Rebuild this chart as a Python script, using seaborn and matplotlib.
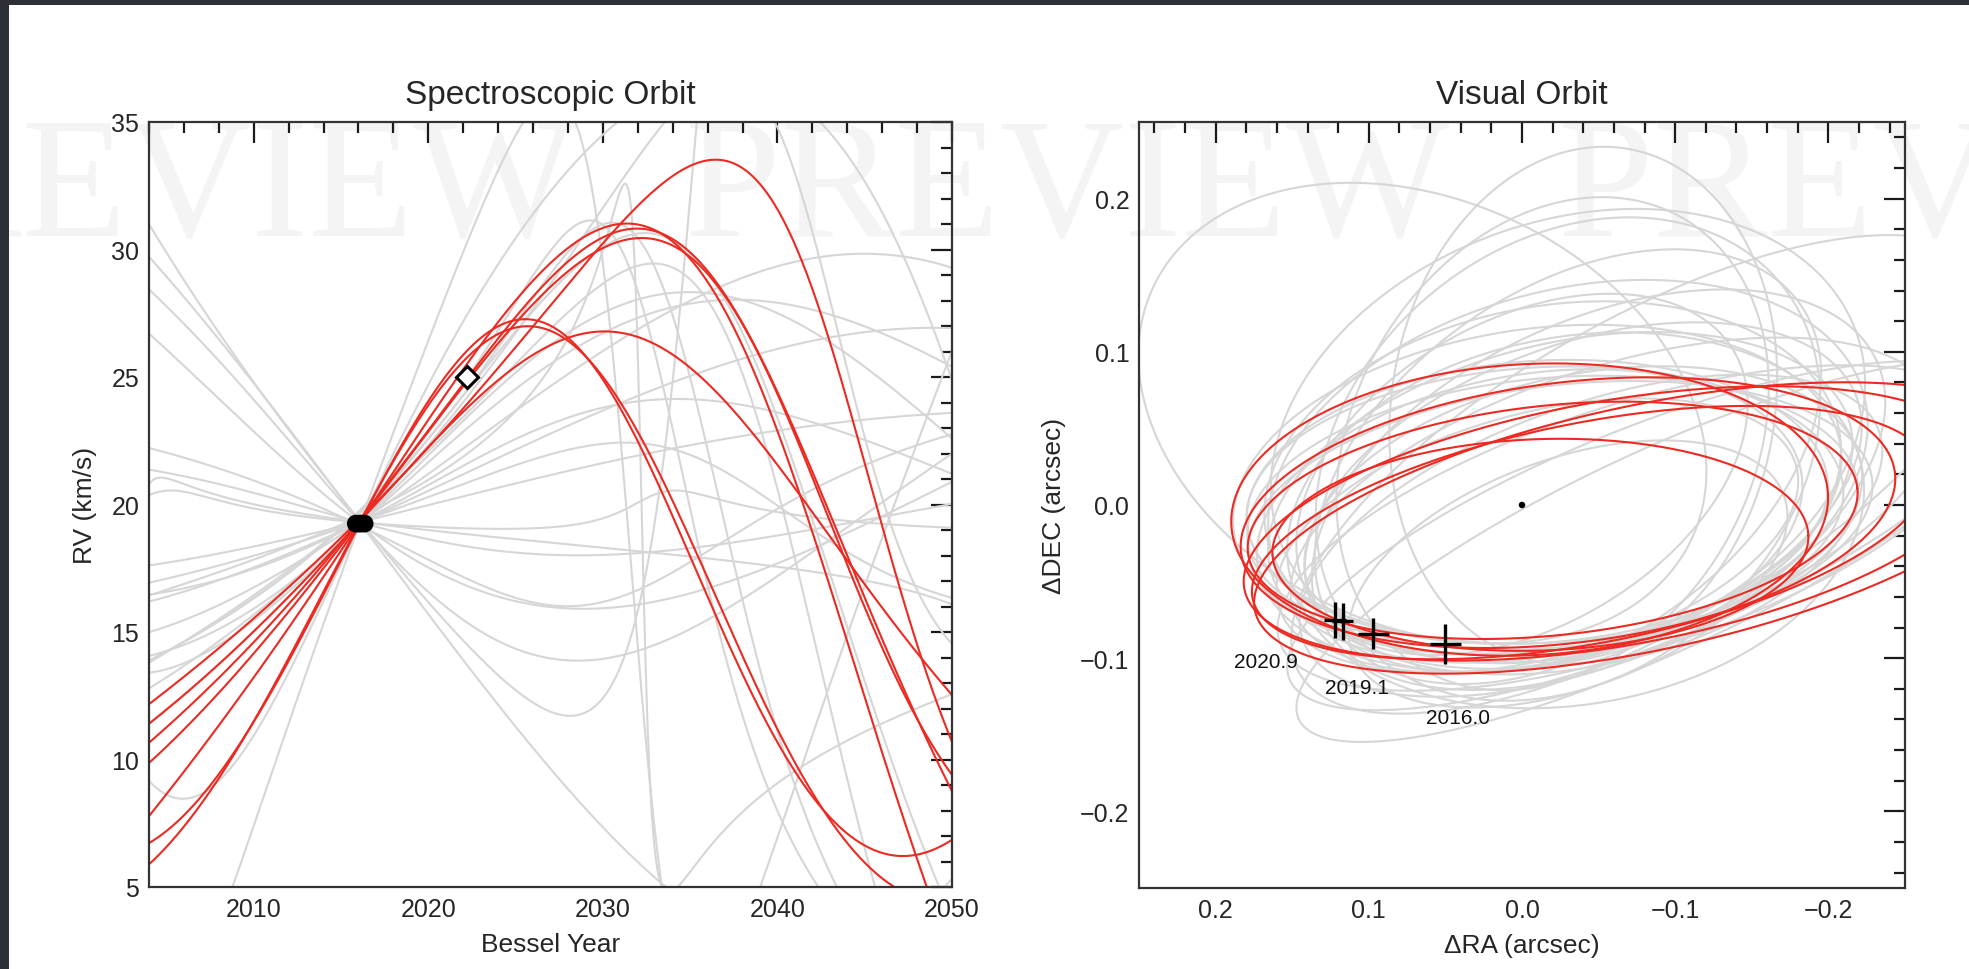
import numpy as np
import pandas as pd
import matplotlib
matplotlib.use("Agg")
import matplotlib.pyplot as plt
import seaborn as sns
from matplotlib.ticker import MultipleLocator, FuncFormatter
from matplotlib.patches import Rectangle

sns.set_theme(style="white")
plt.rcParams["font.family"] = ["Liberation Sans", "DejaVu Sans"]

# ======================= data =======================
# observed RV (filled dots) and predicted RV (open diamond)
rv_obs_year = [2015.85, 2016.1, 2016.35]
rv_obs_val = [19.25, 19.25, 19.25]
rv_pred_year = [2022.2]
rv_pred_val = [25.0]

# measured relative astrometry (crosses) and epoch labels
ast_ra = [0.122, 0.117, 0.097, 0.050]
ast_dec = [-0.075, -0.076, -0.084, -0.091]
ast_ra_err = [0.007, 0.007, 0.010, 0.010]
ast_dec_err = [0.012, 0.012, 0.010, 0.013]
ast_labels = ["2020.9", "2019.1", "2016.0"]
ast_label_ra = [0.167, 0.108, 0.042]
ast_label_dec = [-0.102, -0.119, -0.139]

# RV curves of the orbit solutions as (year, RV) samples;
# every solution also passes through the observed RV point above.
red_rv_years = [
    [2004, 2010, 2022, 2029, 2036.7, 2042, 2045.5, 2050],
    [2004, 2010, 2022, 2027, 2031.3, 2036, 2041.6, 2048.5],
    [2004, 2010, 2022, 2027, 2031.7, 2037, 2043, 2050],
    [2004, 2010, 2022, 2027.6, 2033.3, 2040, 2046, 2050],
    [2004.5, 2010, 2022, 2026.8, 2034, 2041, 2048],
    [2004, 2010, 2022, 2030.6, 2038, 2044, 2050],
    [2004, 2010, 2022, 2032, 2038, 2045, 2050],
]
red_rv_vals = [
    [12.3, 15.9, 24.2, 30.0, 32.9, 29.0, 20.0, 10.8],
    [7.7, 13.5, 25.0, 29.8, 31.0, 28.5, 20.0, 5.0],
    [10.9, 15.2, 24.6, 29.3, 30.9, 28.0, 20.0, 8.5],
    [5.2, 12.4, 25.3, 27.4, 20.0, 11.0, 7.3, 6.6],
    [5.0, 12.6, 25.6, 26.9, 20.0, 10.0, 5.0],
    [11.2, 15.5, 23.8, 26.9, 23.0, 18.0, 12.5],
    [9.7, 14.6, 24.8, 30.5, 27.0, 16.0, 9.4],
]

gray_rv_years = [
    [2004, 2010, 2022, 2026, 2028.6, 2031, 2033.5, 2035],
    [2004, 2010, 2022, 2028.5, 2035, 2042, 2050],
    [2004, 2010, 2022, 2028.3, 2036, 2044, 2050],
    [2004, 2010, 2020, 2024.7, 2030, 2040, 2050],
    [2004, 2010, 2020, 2027.7, 2038, 2050],
    [2004, 2010, 2022, 2028, 2033.7, 2038],
    [2004, 2010, 2022, 2027.7, 2031, 2036, 2041.5],
    [2004, 2010, 2022, 2028.3, 2032, 2038, 2043],
    [2004, 2010, 2022, 2030.6, 2036, 2042, 2045.5],
    [2004, 2010, 2022, 2035, 2042, 2050],
    [2004, 2010, 2022, 2036, 2044, 2050],
    [2004, 2010, 2025, 2035, 2044, 2050],
    [2004, 2010, 2022, 2030, 2040, 2050],
    [2004, 2007, 2010, 2022, 2026, 2030],
    [2008.8, 2012, 2020, 2023, 2025],
    [2004, 2010, 2022, 2030, 2036, 2042, 2047, 2050],
    [2004, 2010, 2022, 2035, 2045, 2050],
    [2004, 2010, 2022, 2035, 2045, 2050],
    [2004, 2010, 2022, 2035, 2050],
    [2004, 2010, 2022, 2028, 2030.8, 2032.2, 2033.7],
    [2004, 2010, 2022, 2028, 2033, 2040, 2046],
    [2004, 2010, 2022, 2030, 2040, 2050],
    [2004, 2010, 2022, 2030, 2040, 2050],
]
gray_rv_vals = [
    [30.8, 25.2, 14.8, 12.3, 11.7, 13.5, 22.0, 32.0],
    [28.6, 23.8, 15.6, 13.7, 15.0, 18.5, 21.8],
    [26.8, 22.6, 16.9, 15.7, 16.8, 19.0, 20.8],
    [21.9, 20.8, 17.3, 16.0, 16.6, 19.5, 23.0],
    [21.4, 20.4, 18.6, 18.0, 18.6, 20.0],
    [29.8, 24.5, 13.8, 8.8, 5.0, 3.0],
    [16.0, 17.0, 25.5, 31.7, 29.0, 18.0, 5.0],
    [15.6, 16.8, 25.0, 31.4, 29.5, 17.0, 5.0],
    [15.2, 16.5, 24.5, 30.2, 27.0, 15.5, 5.0],
    [14.0, 16.0, 23.3, 28.3, 26.8, 22.6],
    [12.8, 15.5, 22.5, 28.2, 27.0, 25.5],
    [16.4, 17.6, 22.6, 24.1, 22.8, 21.2],
    [17.0, 18.0, 21.0, 22.3, 20.0, 16.3],
    [9.1, 8.8, 10.8, 27.0, 31.5, 34.5],
    [5.0, 11.5, 26.5, 31.5, 34.5],
    [13.2, 16.0, 24.0, 31.5, 36.5, 31.0, 18.0, 14.5],
    [15.0, 16.8, 22.3, 28.0, 29.8, 29.3],
    [16.2, 17.5, 21.2, 25.0, 26.8, 26.9],
    [17.6, 18.4, 20.4, 22.3, 23.6],
    [17.8, 18.5, 21.5, 26.0, 33.0, 20.0, 5.0],
    [11.6, 15.2, 24.6, 29.5, 30.2, 23.5, 11.0],
    [20.4, 19.9, 19.3, 19.4, 19.6, 18.9],
    [20.8, 20.1, 18.7, 18.3, 17.8, 16.0],
]

# Visual orbit solutions (apparent ellipses): centre RA, centre DEC, semi-axes, tilt
red_cx = [-0.005, -0.030, -0.060, -0.020, -0.045, -0.012, -0.080]
red_cy = [-0.003, -0.005, -0.012, -0.010, -0.018, -0.026, -0.015]
red_a = [0.195, 0.215, 0.245, 0.200, 0.225, 0.175, 0.260]
red_b = [0.095, 0.085, 0.080, 0.075, 0.072, 0.069, 0.080]
red_tilt = [3, 7, 10, 6, 11, 2, 12]

gray_cx = [0.065, -0.040, -0.030, -0.080, -0.030, -0.020, -0.010, -0.040,
           -0.020, -0.015, -0.025, -0.010, -0.030, -0.035, -0.080, -0.090,
           -0.070, -0.030, -0.020, -0.050, -0.040, -0.010, 0.000, -0.060,
           -0.030, -0.045, -0.005, -0.025]
gray_cy = [0.060, 0.065, 0.045, 0.020, 0.020, 0.015, 0.010, 0.005,
           -0.005, 0.000, -0.008, 0.002, -0.045, -0.010, -0.020, -0.030,
           -0.015, 0.030, 0.040, 0.010, -0.010, -0.020, 0.020, 0.000,
           0.025, -0.020, -0.010, 0.005]
gray_a = [0.194, 0.170, 0.200, 0.260, 0.200, 0.190, 0.200, 0.190,
          0.200, 0.195, 0.205, 0.190, 0.150, 0.190, 0.250, 0.260,
          0.240, 0.180, 0.170, 0.200, 0.185, 0.175, 0.160, 0.220,
          0.185, 0.200, 0.180, 0.195]
gray_b = [0.139, 0.125, 0.140, 0.100, 0.120, 0.115, 0.105, 0.100,
          0.088, 0.090, 0.086, 0.092, 0.075, 0.120, 0.070, 0.065,
          0.080, 0.140, 0.130, 0.110, 0.095, 0.080, 0.100, 0.090,
          0.115, 0.085, 0.095, 0.100]
gray_tilt = [-25, 80, 20, 30, 15, 10, 8, 20,
             5, 3, 7, 4, 20, 10, 22, 25,
             18, 40, 60, 25, 12, 15, 30, 18,
             35, 20, 10, 14]

# ======================= Keplerian RV model =======================
T_OBS, V_OBS = float(np.mean(rv_obs_year)), 19.3


def kepler_nu(M, e):
    M = np.mod(M + np.pi, 2 * np.pi) - np.pi
    E = M + 0.85 * e * np.sign(np.sin(M))
    for _ in range(14):
        E = E - (E - e * np.sin(E) - M) / (1 - e * np.cos(E))
    cE, sE = np.cos(E), np.sin(E)
    den = 1 - e * cE
    return (cE - e) / den, np.sqrt(1 - e * e) * sE / den


P_GRID = np.geomspace(20, 300, 60)
E_GRID = np.linspace(0.0, 0.84, 15)
PH_GRID = np.linspace(0, 1, 96, endpoint=False)
_P, _E, _PH = [g.ravel() for g in np.meshgrid(P_GRID, E_GRID, PH_GRID, indexing="ij")]


def fit_rv(years, vals):
    """Least-squares Keplerian orbit through the samples (and the observed RV)."""
    t = np.array(list(years) + [T_OBS])
    v = np.array(list(vals) + [V_OBS])
    w = np.ones_like(t)
    w[-1] = 8.0
    M = 2 * np.pi * ((t[None, :] - 2000.0) / _P[:, None] - _PH[:, None])
    cn, sn = kepler_nu(M, _E[:, None])
    X = np.stack([np.ones_like(cn), cn + _E[:, None], sn], axis=-1)
    Xw = X * w[None, :, None]
    A = np.einsum("nki,nkj->nij", Xw, X) + 1e-6 * np.eye(3)
    b = np.einsum("nki,k->ni", Xw, v)
    c = np.linalg.solve(A, b[..., None])[..., 0]
    pred = np.einsum("nki,ni->nk", X, c)
    cost = ((w * (pred - v) ** 2).sum(1)
            + 4e-4 * (c[:, 1] ** 2 + c[:, 2] ** 2) + 0.4 * _E ** 2)
    k = int(np.argmin(cost))
    return _P[k], _E[k], _PH[k], c[k]


def rv_frame(all_years, all_vals, tag):
    tt = np.linspace(2004, 2050, 900)
    rows = []
    for i, (ys, vs) in enumerate(zip(all_years, all_vals)):
        P, e, ph, c = fit_rv(ys, vs)
        cn, sn = kepler_nu(2 * np.pi * ((tt - 2000.0) / P - ph), e)
        rv = c[0] + c[1] * (cn + e) + c[2] * sn
        rows.append(pd.DataFrame({"year": tt, "rv": rv, "orbit": f"{tag}{i}"}))
    return pd.concat(rows, ignore_index=True)


def ell_frame(cx, cy, a, b, tilt, tag):
    s = np.linspace(0, 2 * np.pi, 500)
    rows = []
    for i in range(len(cx)):
        th = np.radians(tilt[i])
        du = a[i] * np.cos(s) * np.cos(th) - b[i] * np.sin(s) * np.sin(th)
        dv = a[i] * np.cos(s) * np.sin(th) + b[i] * np.sin(s) * np.cos(th)
        rows.append(pd.DataFrame({"ra": cx[i] - du, "dec": cy[i] + dv,
                                  "orbit": f"{tag}{i}"}))
    return pd.concat(rows, ignore_index=True)


rv_gray = rv_frame(gray_rv_years, gray_rv_vals, "g")
rv_red = rv_frame(red_rv_years, red_rv_vals, "r")
vo_gray = ell_frame(gray_cx, gray_cy, gray_a, gray_b, gray_tilt, "g")
vo_red = ell_frame(red_cx, red_cy, red_a, red_b, red_tilt, "r")

GRAY = "#d6d6d6"
RED = "#ec2a22"

# ======================= figure =======================
W, H = 1969, 970
fig = plt.figure(figsize=(W / 100, H / 100), dpi=100)
fig.patch.set_facecolor("white")

fig.patches.append(Rectangle((0, 1 - 6 / H), 1, 6 / H, transform=fig.transFigure,
                             facecolor="#2c3036", edgecolor="none", zorder=5))
fig.patches.append(Rectangle((0, 0), 9 / W, 1, transform=fig.transFigure,
                             facecolor="#2c3036", edgecolor="none", zorder=5))

for xs in (-189, 684, 1557):
    fig.text(xs / W, 1 - 236 / H, "PREVIEW", family="Liberation Serif",
             fontsize=124, color="#f4f4f4", zorder=-5, ha="left", va="baseline")

ax1 = fig.add_axes([149 / W, 1 - 888 / H, (952 - 149) / W, (888 - 123) / H])
ax2 = fig.add_axes([1139 / W, 1 - 889 / H, (1905 - 1139) / W, (889 - 123) / H])
for ax in (ax1, ax2):
    ax.set_facecolor("none")

sns.lineplot(data=rv_gray, x="year", y="rv", units="orbit", estimator=None,
             color=GRAY, lw=1.5, sort=False, ax=ax1, legend=False)
sns.lineplot(data=rv_red, x="year", y="rv", units="orbit", estimator=None,
             color=RED, lw=1.5, sort=False, ax=ax1, legend=False)
sns.scatterplot(x=rv_obs_year, y=rv_obs_val, color="black", s=165, ax=ax1,
                edgecolor="none", zorder=5)
ax1.plot(rv_pred_year, rv_pred_val, marker="D", ms=11, mfc="white", mec="black",
         mew=2.2, ls="none", zorder=6)

sns.lineplot(data=vo_gray, x="ra", y="dec", units="orbit", estimator=None,
             color=GRAY, lw=1.5, sort=False, ax=ax2, legend=False)
sns.lineplot(data=vo_red, x="ra", y="dec", units="orbit", estimator=None,
             color=RED, lw=1.5, sort=False, ax=ax2, legend=False)
ax2.errorbar(ast_ra, ast_dec, xerr=ast_ra_err, yerr=ast_dec_err, fmt="none",
             ecolor="black", elinewidth=2.4, capsize=0, zorder=6)
sns.scatterplot(x=[0.0], y=[0.0], color="black", s=22, ax=ax2, edgecolor="none", zorder=6)
for lab, xr, yd in zip(ast_labels, ast_label_ra, ast_label_dec):
    ax2.text(xr, yd, lab, fontsize=15, ha="center", va="center", color="#111")

ax1.set_xlim(2004, 2050)
ax1.set_ylim(5, 35)
ax1.xaxis.set_major_locator(MultipleLocator(10))
ax1.xaxis.set_minor_locator(MultipleLocator(2))
ax1.yaxis.set_major_locator(MultipleLocator(5))
ax1.yaxis.set_minor_locator(MultipleLocator(1))
ax1.set_xlabel("Bessel Year", fontsize=19, labelpad=8)
ax1.set_ylabel("RV (km/s)", fontsize=19, labelpad=10)
ax1.set_title("Spectroscopic Orbit", fontsize=24, pad=14)

minus_fmt = FuncFormatter(lambda v, p: f"{v:.1f}".replace("-", "\u2212"))
ax2.set_xlim(0.25, -0.25)
ax2.set_ylim(-0.25, 0.25)
ax2.xaxis.set_major_locator(MultipleLocator(0.1))
ax2.xaxis.set_minor_locator(MultipleLocator(0.02))
ax2.yaxis.set_major_locator(MultipleLocator(0.1))
ax2.yaxis.set_minor_locator(MultipleLocator(0.02))
ax2.xaxis.set_major_formatter(minus_fmt)
ax2.yaxis.set_major_formatter(minus_fmt)
ax2.set_xlabel("ΔRA (arcsec)", fontsize=19, labelpad=8)
ax2.set_ylabel("ΔDEC (arcsec)", fontsize=19, labelpad=10)
ax2.set_title("Visual Orbit", fontsize=24, pad=14)

for ax in (ax1, ax2):
    ax.tick_params(which="both", direction="in", top=True, right=True,
                   color="#1a1a1a", width=1.6, labelsize=18, pad=7)
    ax.tick_params(which="major", length=15)
    ax.tick_params(which="minor", length=8)
    for sp in ax.spines.values():
        sp.set_linewidth(1.6)
        sp.set_color("#333333")
        sp.set_zorder(10)

fig.savefig("out.png", dpi=100, facecolor="white")
